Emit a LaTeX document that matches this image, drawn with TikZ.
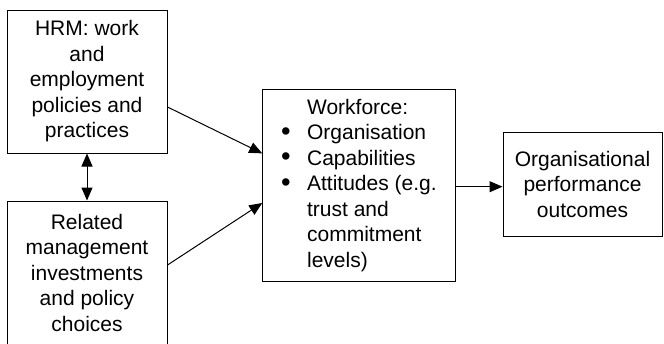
\documentclass[tikz,border=0pt]{standalone}
\usepackage{fontspec}
\setmainfont{Liberation Sans}
\usetikzlibrary{arrows.meta}
\newcommand\listdot{\raisebox{-0.6pt}{\scalebox{1.3}{\textbullet}}}
\begin{document}
\begin{tikzpicture}[x=1pt,y=-1pt,
  box/.style={draw,line width=1pt,inner sep=0pt,align=center,
    font=\fontsize{21}{25.5}\selectfont},
  link/.style={line width=1pt,-{Triangle[length=13pt,width=11pt]}},
  twoway/.style={line width=1pt,{Triangle[length=13pt,width=11pt]}-{Triangle[length=13pt,width=11pt]}}]
\useasboundingbox (0,0) rectangle (664,343);

% source boxes on the left
\node[box,minimum width=160pt,minimum height=143pt] (hrm) at (87,81.5)
  {HRM: work\\and\\employment\\policies and\\practices};
\node[box,minimum width=160pt,minimum height=143pt] (rel) at (87,272.5)
  {Related\\management\\investments\\and policy\\choices};

% workforce box with its list
\node[box,minimum width=192.3pt,minimum height=192.7pt] (wf) at (358.9,185.4)
  {\renewcommand\arraystretch{1}%
   \begin{tabular}{@{}p{26pt}@{}l@{}}
     & Workforce:\\
   \listdot & Organisation\\
   \listdot & Capabilities\\
   \listdot & Attitudes (e.g.\\
     & trust and\\
     & commitment\\
     & levels)
   \end{tabular}};

% outcome box
\node[box,minimum width=159pt,minimum height=104.7pt] (out) at (582.5,184.4)
  {Organisational\\performance\\outcomes};

% connectors
\draw[twoway] (hrm.south) -- (rel.north);
\draw[link] ([yshift=-25.5pt]hrm.east) -- ([yshift=32pt]wf.west);
\draw[link] ([yshift=7.5pt]rel.east) -- ([yshift=-17.6pt]wf.west);
\draw[link] ([yshift=-1.3pt]wf.east) -- ([yshift=-1.3pt]wf.east -| out.west);
\end{tikzpicture}
\end{document}
